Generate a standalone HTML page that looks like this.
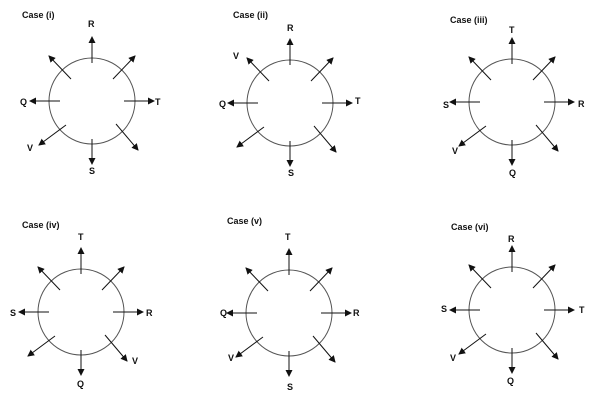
<!DOCTYPE html>
<html><head><meta charset="utf-8"><style>
html,body{margin:0;padding:0;background:#fff;}
svg{display:block;}
text{font-family:"Liberation Sans",sans-serif;font-weight:bold;font-size:9px;fill:#111;}
</style></head><body>
<svg width="605" height="415" viewBox="0 0 605 415" xmlns="http://www.w3.org/2000/svg">
<defs>
<marker id="a" markerWidth="7" markerHeight="7" refX="6" refY="3.5" orient="auto" markerUnits="userSpaceOnUse">
<path d="M0,0 L7,3.5 L0,7 Z" fill="#111"/>
</marker>
<g id="c">
<circle cx="0" cy="0" r="43" fill="none" stroke="#555" stroke-width="1"/>
<g stroke="#111" stroke-width="1" marker-end="url(#a)">
<line x1="0" y1="-38" x2="0" y2="-64"/>
<line x1="32" y1="0" x2="62" y2="0"/>
<line x1="-32" y1="0" x2="-62" y2="0"/>
<line x1="0" y1="38" x2="0" y2="63"/>
<line x1="-21" y1="-22" x2="-43" y2="-45"/>
<line x1="21" y1="-22" x2="43" y2="-45"/>
<line x1="24" y1="23" x2="46" y2="49"/>
<line x1="-26" y1="24" x2="-53" y2="44"/>
</g>
</g>
</defs>

<!-- Case i -->
<text x="22" y="18">Case (i)</text>
<use href="#c" x="92" y="101"/>
<text x="88" y="27">R</text>
<text x="155" y="105">T</text>
<text x="20" y="105">Q</text>
<text x="27" y="151">V</text>
<text x="89" y="174">S</text>

<!-- Case ii -->
<text x="233" y="18">Case (ii)</text>
<use href="#c" x="290" y="103"/>
<text x="287" y="31">R</text>
<text x="355" y="104">T</text>
<text x="219" y="107">Q</text>
<text x="233" y="59">V</text>
<text x="288" y="176">S</text>

<!-- Case iii -->
<text x="450" y="23">Case (iii)</text>
<use href="#c" x="512" y="102"/>
<text x="509" y="33">T</text>
<text x="578" y="107">R</text>
<text x="443" y="108">S</text>
<text x="452" y="154">V</text>
<text x="509" y="176">Q</text>

<!-- Case iv -->
<text x="22" y="228">Case (iv)</text>
<use href="#c" x="81" y="312"/>
<text x="78" y="240">T</text>
<text x="146" y="316">R</text>
<text x="10" y="316">S</text>
<text x="132" y="364">V</text>
<text x="77" y="387">Q</text>

<!-- Case v -->
<text x="227" y="224">Case (v)</text>
<use href="#c" x="289" y="313"/>
<text x="285" y="240">T</text>
<text x="353" y="316">R</text>
<text x="220" y="316">Q</text>
<text x="228" y="361">V</text>
<text x="287" y="390">S</text>

<!-- Case vi -->
<text x="451" y="230">Case (vi)</text>
<use href="#c" x="512" y="310"/>
<text x="508" y="242">R</text>
<text x="579" y="313">T</text>
<text x="441" y="312">S</text>
<text x="450" y="361">V</text>
<text x="507" y="384">Q</text>
</svg>
</body></html>
